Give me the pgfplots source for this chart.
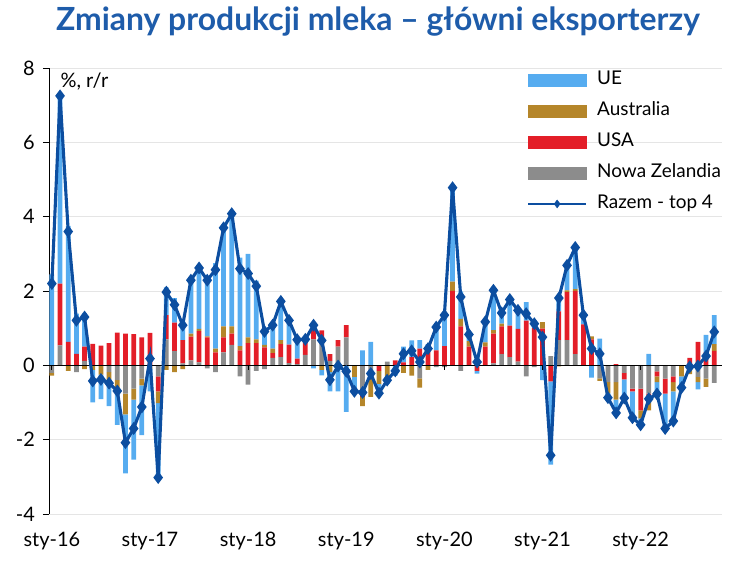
\documentclass[border=0pt]{standalone}
\usepackage{pgfplots}
\pgfplotsset{compat=1.18}
\usepackage{pgfplotstable}
\usepackage{fontspec}
\setmainfont{Lato}
\definecolor{ue}{RGB}{86,172,240}
\definecolor{au}{RGB}{181,134,42}
\definecolor{us}{RGB}{227,30,40}
\definecolor{nz}{RGB}{140,140,140}
\definecolor{tot}{RGB}{12,78,160}
\definecolor{ttl}{RGB}{30,92,170}

\pgfplotstableread{
m UE AU USA NZ TOT
0 2.45 -0.08 0 -0.2 2.2
1 5.05 0 1.66 0.54 7.25
2 3.12 -0.15 0.63 0 3.6
3 1.08 0 0.31 -0.18 1.21
4 0.9 -0.1 0.38 0.12 1.3
5 -0.88 -0.12 0.58 0 -0.42
6 -0.66 -0.25 0.53 0 -0.38
7 -0.65 -0.27 0.6 -0.18 -0.48
8 -1.0 -0.2 0.88 -0.4 -0.69
9 -1.59 -0.56 0.85 -0.76 -2.08
10 -1.62 -0.29 0.84 -0.63 -1.7
11 -1.34 -0.18 0.75 -0.36 -1.12
12 -0.6 -0.05 0.87 -0.05 0.18
13 -2.0 -0.32 -0.4 -0.3 -3.02
14 0.75 -0.12 0.65 0.7 1.97
15 0.66 -0.18 0.77 0.38 1.63
16 0.5 -0.1 0.63 0.05 1.08
17 1.45 0.08 0.64 0.13 2.29
18 1.64 0.06 0.84 0.08 2.62
19 1.59 0.03 0.75 -0.08 2.29
20 2.3 0.1 0.35 -0.18 2.57
21 2.65 0.3 0.4 0.35 3.7
22 3.03 0.2 0.3 0.55 4.08
23 2.38 0.12 0.4 -0.3 2.6
24 2.25 0.15 0.6 -0.52 2.47
25 1.58 0.1 0.6 -0.15 2.13
26 0.46 0.07 0.48 -0.1 0.91
27 0.63 0.12 0.13 0.2 1.08
28 1.04 0.11 0.35 0.22 1.72
29 0.65 0 0.5 0.06 1.21
30 0.51 0 0.15 0.03 0.69
31 0.05 0 0.37 0.28 0.7
32 -0.08 0 0.46 0.7 1.08
33 -0.15 -0.12 0.26 0.68 0.67
34 -0.52 -0.18 0.18 0.12 -0.39
35 -0.65 -0.05 0.18 0.5 -0.02
36 -1.25 0 0.33 0.75 -0.16
37 -0.39 -0.31 0 0 -0.7
38 0.4 -0.25 -0.2 -0.65 -0.73
39 0.63 -0.55 -0.05 -0.25 -0.22
40 -0.25 -0.35 -0.15 0 -0.75
41 -0.2 -0.3 0 0.1 -0.4
42 -0.28 0 0.13 0 -0.15
43 0.42 -0.2 0.08 0 0.31
44 0.45 -0.28 0.22 0 0.39
45 0.23 -0.25 0.45 -0.35 0.09
46 0.2 -0.12 0.37 0 0.45
47 0.68 0 0.4 -0.05 1.03
48 0.88 0 0.52 -0.05 1.35
49 2.53 0.25 2.0 0 4.78
50 0.74 0.2 1.05 -0.15 1.84
51 0.18 0.15 0.5 0 0.83
52 -0.07 0 -0.15 0 0.09
53 0.55 0.12 0.5 0 1.17
54 1.07 0.1 0.8 0.05 2.02
55 0.29 0.07 0.75 0.3 1.41
56 0.7 0 0.85 0.22 1.77
57 0.5 0 0.88 0.1 1.48
58 0.5 0 1.2 -0.3 1.39
59 0.17 0 1.0 -0.05 1.12
60 -0.4 0.17 0.99 0 0.76
61 -2.24 0 -0.43 0.25 -2.42
62 0.39 -0.03 0.77 0.68 1.81
63 0.67 0.05 1.29 0.68 2.69
64 1.12 0.05 1.7 0.3 3.17
65 0.25 0 1.1 0 1.35
66 -0.33 0.08 0.7 0 0.45
67 0.72 -0.07 0 -0.35 0.31
68 -0.12 -0.3 0 -0.45 -0.87
69 -0.36 -0.47 0.03 -0.45 -1.28
70 -0.5 0 -0.18 -0.2 -0.88
71 -0.71 0 -0.07 -0.63 -1.41
72 -0.17 -0.22 -0.58 -0.63 -1.6
73 0.31 -0.41 -0.04 -0.76 -0.9
74 -0.31 -0.15 -0.14 -0.16 -0.77
75 -0.94 0 -0.4 -0.36 -1.7
76 -0.8 -0.25 -0.15 -0.3 -1.5
77 -0.3 -0.3 0 0 -0.6
78 0 -0.14 0.2 -0.1 -0.04
79 -0.2 -0.14 0.63 -0.31 -0.02
80 0.47 -0.22 0.35 -0.36 0.25
81 0.78 0.18 0.39 -0.47 0.9
}\data

\pgfplotsset{common/.style={
  scale only axis, width=673bp, height=446bp,
  xmin=-0.35, xmax=81.95, ymin=-4, ymax=8,
  at={(49bp,53bp)}, anchor=south west,
  enlargelimits=false, clip=false,
}}

\begin{document}
\begin{tikzpicture}
\useasboundingbox (0,0) rectangle (754bp,567bp);
% axis 1: frame, grid, positive parts
\begin{axis}[common, ybar stacked, bar width=0.58,
  axis x line*=bottom, axis y line*=left,
  x axis line style={draw=none},
  xtick={0,12,24,36,48,60,72},
  xticklabels={sty-16,sty-17,sty-18,sty-19,sty-20,sty-21,sty-22},
  xtick style={draw=none},
  ytick={-4,-2,0,2,4,6,8}, yticklabels={-4,-2,0,2,4,6,8},
  ymajorgrids, grid style={draw=black!10, line width=0.8bp},
  tick align=outside, major tick length=6bp,
  y axis line style={black, line width=0.8bp},
  ytick style={black, line width=0.8bp},
  ticklabel style={font=\fontsize{20}{24}\selectfont},
  yticklabel style={inner sep=0pt, xshift=-8bp},
  xticklabel style={inner sep=0pt, yshift=-12bp},
]
\addplot[fill=nz, draw=none] table[x=m, y expr={max(\thisrow{NZ},0)}] {\data};
\addplot[fill=us, draw=none] table[x=m, y expr={max(\thisrow{USA},0)}] {\data};
\addplot[fill=au, draw=none] table[x=m, y expr={max(\thisrow{AU},0)}] {\data};
\addplot[fill=ue, draw=none] table[x=m, y expr={max(\thisrow{UE},0)}] {\data};
\end{axis}
% axis 2: negative parts
\begin{axis}[common, ybar stacked, bar width=0.58, hide axis]
\addplot[fill=nz, draw=none] table[x=m, y expr={min(\thisrow{NZ},0)}] {\data};
\addplot[fill=us, draw=none] table[x=m, y expr={min(\thisrow{USA},0)}] {\data};
\addplot[fill=au, draw=none] table[x=m, y expr={min(\thisrow{AU},0)}] {\data};
\addplot[fill=ue, draw=none] table[x=m, y expr={min(\thisrow{UE},0)}] {\data};
\end{axis}
% axis 3: zero line, total, legend
\begin{axis}[common, hide axis,
  legend style={at={(0.71,0.995)}, anchor=north west, draw=none, fill=none,
    inner sep=0pt, row sep=12bp, column sep=10bp,
    font=\fontsize{19}{22}\selectfont,
    nodes={inner sep=0pt, text height=14bp, text depth=5bp}},
  legend cell align=left,
]
\draw[black, line width=0.9bp] (axis cs:-0.35,0) -- (axis cs:81.95,0);
\pgfplotsinvokeforeach{0,12,24,36,48,60,72}{\draw[black, line width=0.8bp] (axis cs:#1,0) -- ([yshift=-5bp]axis cs:#1,0);}
\addplot[tot, line width=3.1bp, mark=diamond*, mark size=3.9bp, mark options={solid}, forget plot]
  table[x=m, y=TOT] {\data};
\addlegendimage{legend image code/.code={\fill[ue] (0bp,-6bp) rectangle (58bp,6bp);}}
\addlegendentry{UE}
\addlegendimage{legend image code/.code={\fill[au] (0bp,-6bp) rectangle (58bp,6bp);}}
\addlegendentry{Australia}
\addlegendimage{legend image code/.code={\fill[us] (0bp,-6bp) rectangle (58bp,6bp);}}
\addlegendentry{USA}
\addlegendimage{legend image code/.code={\fill[nz] (0bp,-6bp) rectangle (58bp,6bp);}}
\addlegendentry{Nowa Zelandia}
\addlegendimage{legend image code/.code={\draw[tot, line width=2.2bp] (0bp,0bp) -- (58bp,0bp);
   \fill[tot] (29bp,4bp) -- (32bp,0bp) -- (29bp,-4bp) -- (26bp,0bp) -- cycle;}}
\addlegendentry{Razem - top 4}
\end{axis}
\node[anchor=base west, font=\fontsize{20}{24}\selectfont] at (57bp,479bp) {\%, r/r};
\node[anchor=base, font=\fontsize{32}{36}\selectfont\bfseries, text=ttl] at (378bp,536bp)
  {Zmiany produkcji mleka – główni eksporterzy};
\end{tikzpicture}
\end{document}
